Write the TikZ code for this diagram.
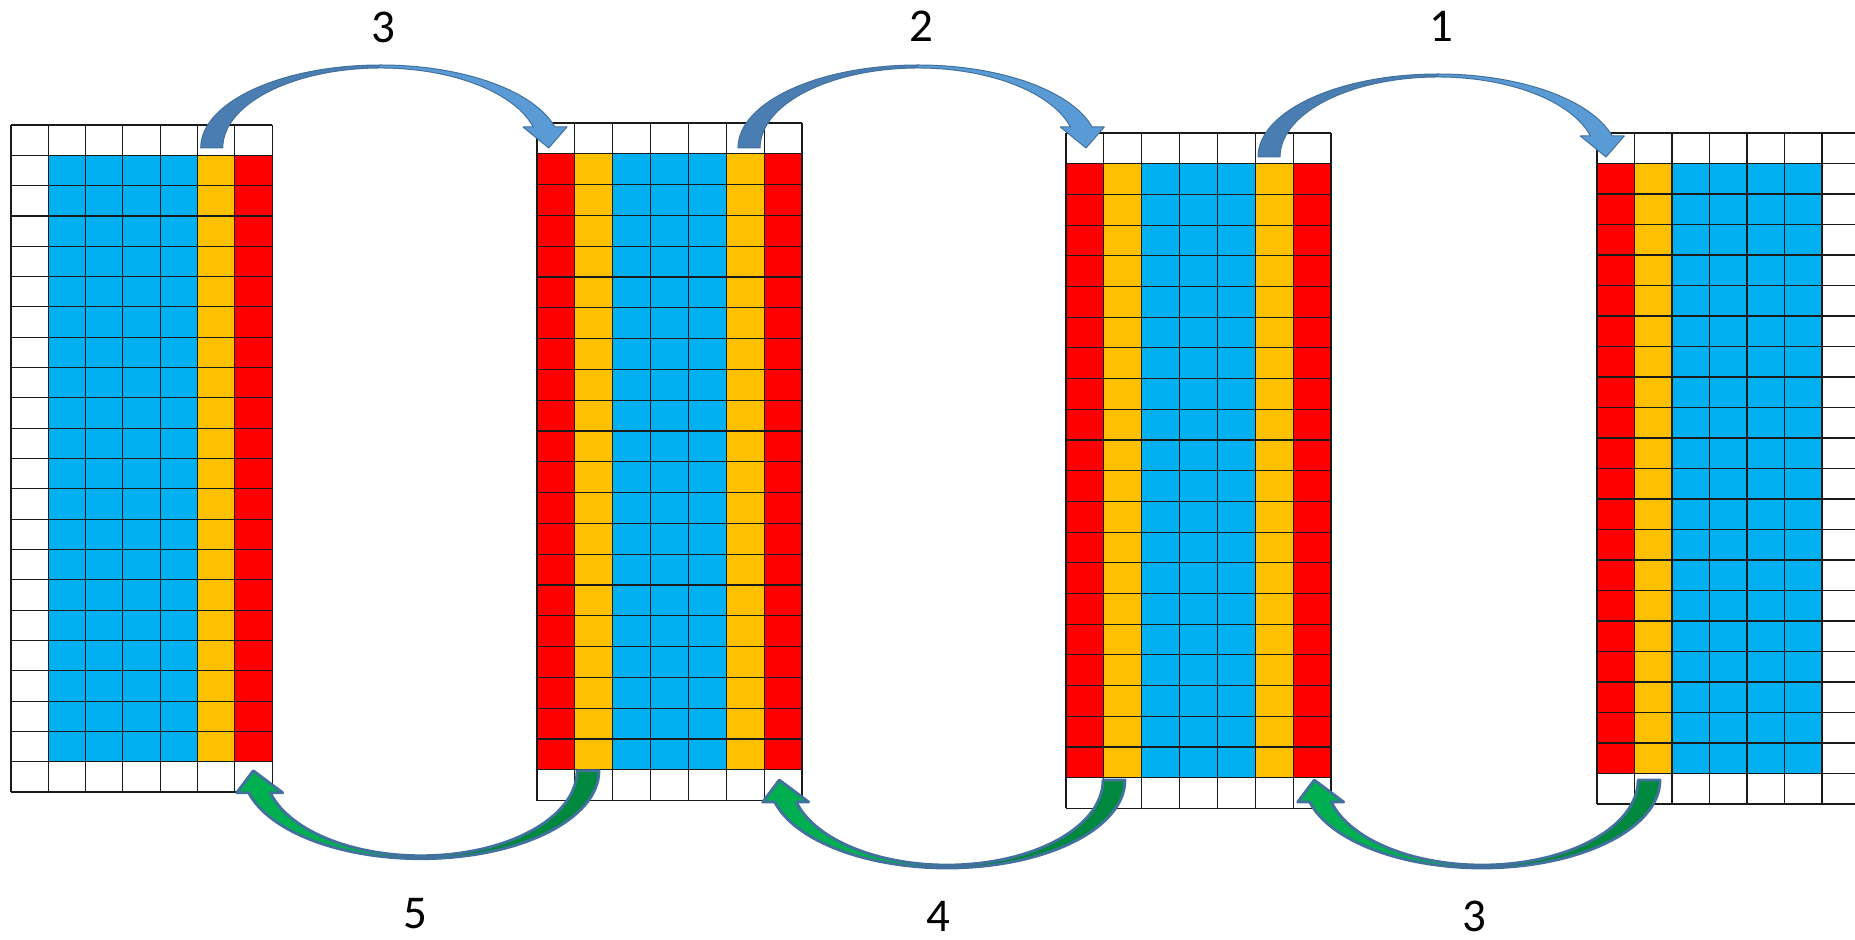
\documentclass[tikz,border=0pt]{standalone}
\usepackage{fontspec}
\setmainfont{Carlito}

\definecolor{cellblue}{HTML}{00B0F0}
\definecolor{cellorange}{HTML}{FFC000}
\definecolor{cellred}{HTML}{FF0000}
\definecolor{gridline}{HTML}{1A1A1A}
\definecolor{bluedark}{HTML}{4A7EB2}
\definecolor{bluelight}{HTML}{5B9BD5}
\definecolor{arrowedge}{HTML}{41719C}
\definecolor{greendark}{HTML}{00893E}
\definecolor{greenlight}{HTML}{00B050}

\tikzset{
  gridrule/.style={draw=gridline, line width=0.55pt},
  steplabel/.style={font=\fontsize{23.5}{28}\selectfont, inner sep=0pt, anchor=center},
  overedge/.style={draw=arrowedge, line width=0.5pt, line join=round},
  underedge/.style={draw=arrowedge, line width=1.4pt, line join=round},
}

% Strip of cells: 7 columns, 22 rows, the first and last rows left white.
% #1 left, #2 top, #3 column width, #4 row height, #5 column colours, #6 right end of the rules
\newcommand\stripgrid[6]{%
  \foreach \col [count=\i from 0] in {#5} {
    \fill[\col] ({#1+\i*#3},{#2+#4}) rectangle ({#1+(\i+1)*#3},{#2+21*#4});
  }
  \foreach \r in {0,...,22}
    \draw[gridrule] (#1,{#2+\r*#4}) -- (#6,{#2+\r*#4});
  \foreach \c in {0,...,7}
    \draw[gridrule] ({#1+\c*#3},#2) -- ({#1+\c*#3},{#2+22*#4});
}

% Curved block arrow over the top, from the tail (left) to the head (right);
% #1 is the centre of its arc on the baseline.
\newcommand\overarrow[1]{%
  \begin{scope}[shift={(#1)}]
    \fill[bluedark] (-180,0)
      arc[start angle=180,end angle=90,x radius=90pt,y radius=41.5pt]
      -- (0,-80)
      arc[start angle=90,end angle=180,x radius=79pt,y radius=40pt] -- cycle;
    \fill[bluelight] (0,-83)
      arc[start angle=90,end angle=14.66,x radius=90pt,y radius=41.5pt]
      -- (186.3,-21) -- (168,0) -- (142.3,-21) -- (152.5,-21)
      arc[start angle=15.22,end angle=90,x radius=79pt,y radius=40pt] -- cycle;
    \draw[overedge] (-180,0)
      arc[start angle=180,end angle=14.66,x radius=90pt,y radius=41.5pt]
      -- (186.3,-21) -- (168,0) -- (142.3,-21) -- (152.5,-21)
      arc[start angle=15.22,end angle=180,x radius=79pt,y radius=40pt] -- cycle;
  \end{scope}
}

% Curved block arrow underneath, from the tail (right) to the head (left);
% #1 is the centre of its arc on the baseline.
\newcommand\underarrow[1]{%
  \begin{scope}[shift={(#1)}]
    \fill[greendark] (178,0)
      arc[start angle=0,end angle=-90,x radius=89pt,y radius=44pt]
      -- (0,85)
      arc[start angle=-90,end angle=0,x radius=78pt,y radius=42.5pt] -- cycle;
    \fill[greenlight] (0,88)
      arc[start angle=-90,end angle=-165.52,x radius=89pt,y radius=44pt]
      -- (-184.3,22) -- (-167.7,0) -- (-138.3,22) -- (-150.7,22)
      arc[start angle=-165,end angle=-90,x radius=78pt,y radius=42.5pt] -- cycle;
    \draw[underedge] (178,0)
      arc[start angle=0,end angle=-165.52,x radius=89pt,y radius=44pt]
      -- (-184.3,22) -- (-167.7,0) -- (-138.3,22) -- (-150.7,22)
      arc[start angle=-165,end angle=0,x radius=78pt,y radius=42.5pt] -- cycle;
  \end{scope}
}

\begin{document}
\begin{tikzpicture}[x=0.5pt,y=-0.5pt]
  \useasboundingbox (0,0) rectangle (1855,940);
  \clip (0,0) rectangle (1855,940);

  % the four strips
  \stripgrid{11}{125}{37.3}{30.32}{white,cellblue,cellblue,cellblue,cellblue,cellorange,cellred}{272.1}
  \stripgrid{537}{123}{37.86}{30.8}{cellred,cellorange,cellblue,cellblue,cellblue,cellorange,cellred}{802}
  \stripgrid{1066}{133}{37.86}{30.7}{cellred,cellorange,cellblue,cellblue,cellblue,cellorange,cellred}{1331}
  \stripgrid{1597}{133}{37.5}{30.5}{cellred,cellorange,cellblue,cellblue,cellblue,cellblue,white}{1860}

  % arc centres of the moves
  \coordinate (overA) at (380.7,148);
  \coordinate (overB) at (918,148);
  \coordinate (overC) at (1438,157);
  \coordinate (underA) at (421,770.7);
  \coordinate (underB) at (947,780);
  \coordinate (underC) at (1482,780);

  \overarrow{overA}
  \overarrow{overB}
  \overarrow{overC}
  \underarrow{underA}
  \underarrow{underB}
  \underarrow{underC}

  % step numbers
  \node[steplabel] (labOverA) at (383,27) {3};
  \node[steplabel] (labOverB) at (921,26) {2};
  \node[steplabel] (labOverC) at (1441,26) {1};
  \node[steplabel] (labUnderA) at (415,914) {5};
  \node[steplabel] (labUnderB) at (938,916) {4};
  \node[steplabel] (labUnderC) at (1474,916) {3};
\end{tikzpicture}
\end{document}
